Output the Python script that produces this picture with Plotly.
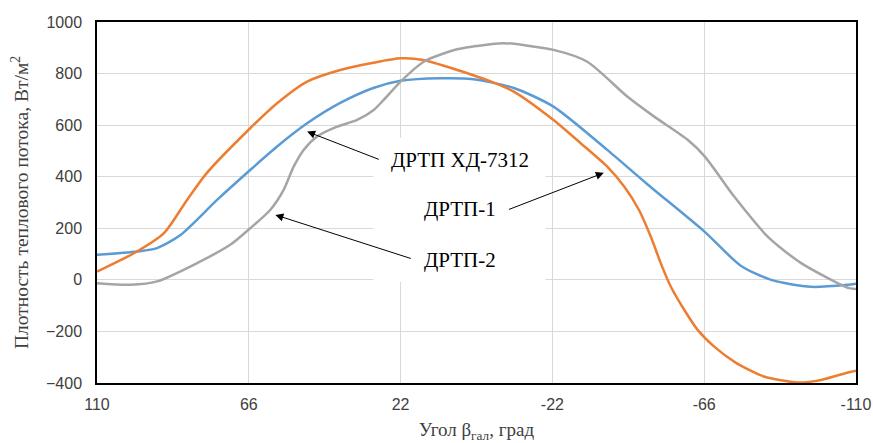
import plotly.graph_objects as go

# --- data ---
x_hd = [110, 98.4, 92.6, 85.8, 75.2, 65.6, 57.8, 49.1, 39.5, 29.9, 22, 10.4, 0.9, -10.8, -22.3, -37.9, -49.6, -66, -76.6, -85.4, -97, -107.6, -110]
y_hd = [97, 110, 123, 174, 310, 426, 517, 607, 686, 744, 772, 782, 778, 744, 672, 504, 370, 188, 55, 0, -27, -19, -15]

x_d1 = [110, 98.4, 90.6, 83.9, 78.2, 65.6, 57.8, 49.1, 39.5, 29.9, 22, 15.4, 5.6, -4.1, -10.8, -22.3, -30.2, -37.9, -42.8, -47.1, -50.5, -53.4, -56.3, -60.2, -64.1, -68.9, -75, -83.3, -93.1, -99.9, -108, -110]
y_d1 = [32, 110, 181, 310, 414, 588, 685, 769, 814, 842, 859, 853, 814, 770, 730, 620, 530, 439, 362, 271, 168, 65, -26, -116, -194, -259, -320, -375, -398, -388, -358, -352]

x_d2 = [110, 100.3, 92.6, 81, 71.4, 65.6, 59.8, 55.9, 53, 50.1, 46.2, 40.4, 34.6, 29.8, 26.9, 22, 15.3, 5.6, -4.1, -8, -22.3, -32.1, -43.7, -51.5, -61.2, -66.2, -74.7, -84.4, -94.1, -108, -110]
y_d2 = [-13, -19, -6, 65, 136, 200, 271, 349, 439, 504, 556, 594, 620, 659, 698, 769, 846, 894, 914, 918, 892, 846, 711, 633, 543, 478, 323, 168, 65, -32, -35]

x_ticks = [110, 66, 22, -22, -66, -110]
y_ticks = [-400, -200, 0, 200, 400, 600, 800, 1000]

labels = ["ДРТП ХД-7312", "ДРТП-1", "ДРТП-2"]

fig = go.Figure()
series = [(x_hd, y_hd, "#5B9BD5"), (x_d1, y_d1, "#ED7D31"), (x_d2, y_d2, "#A5A5A5")]
for (xs, ys, col), name in zip(series, labels):
    fig.add_trace(go.Scatter(x=xs, y=ys, mode="lines", name=name,
                             line=dict(color=col, width=2.5, shape="spline", smoothing=0.7)))

serif = "Liberation Serif, Times New Roman, serif"
tickfont = dict(family="Liberation Sans, Arial", size=16, color="#404040")

fig.update_layout(
    width=873, height=443,
    margin=dict(l=97, r=17, t=22, b=60),
    paper_bgcolor="white", plot_bgcolor="white",
    showlegend=False,
    xaxis=dict(range=[110, -110], tickvals=x_ticks, ticktext=[str(v) for v in x_ticks],
               showgrid=True, gridcolor="#D9D9D9", gridwidth=1.3, zeroline=False,
               showline=True, linecolor="black", linewidth=1.5, mirror=True, automargin=False,
               ticks="", tickfont=tickfont, ticklabelstandoff=6,
               title=dict(text="Угол β<sub>гал</sub>, град", font=dict(family=serif, size=19, color="#404040"), standoff=12)),
    yaxis=dict(range=[-400, 1000], tickvals=y_ticks,
               showgrid=True, gridcolor="#D9D9D9", gridwidth=1.3, zeroline=False,
               showline=True, linecolor="black", linewidth=1.5, mirror=True, automargin=False,
               ticks="", tickfont=tickfont, ticklabelstandoff=10,
               title=dict(text="Плотность теплового потока, Вт/м<sup>2</sup>", font=dict(family=serif, size=19.5, color="#404040"), standoff=12)),
)

# white label box covering the gridlines
fig.add_shape(type="rect", xref="x", yref="y", x0=29.9, x1=-20, y0=-8, y1=551,
              fillcolor="white", line=dict(width=0), layer="between")

text_pos = [(4.9, 465), (4.9, 275), (4.9, 78)]
for (tx, ty), lab in zip(text_pos, labels):
    fig.add_annotation(x=tx, y=ty, xref="x", yref="y", text=lab, showarrow=False,
                       font=dict(family=serif, size=21, color="black"))

arrows = [((27.9, 465), (49.1, 575)), ((-9, 271), (-36.9, 415)), ((18.6, 81), (58.3, 252))]
for (t, h) in arrows:
    fig.add_annotation(x=h[0], y=h[1], ax=t[0], ay=t[1], xref="x", yref="y", axref="x", ayref="y",
                       text="", showarrow=True, arrowhead=2, arrowsize=1.6, arrowwidth=1, arrowcolor="black")

fig.write_html("out.html", config={"displayModeBar": False},
               post_script="document.body.style.margin='0';document.body.style.padding='0';")
